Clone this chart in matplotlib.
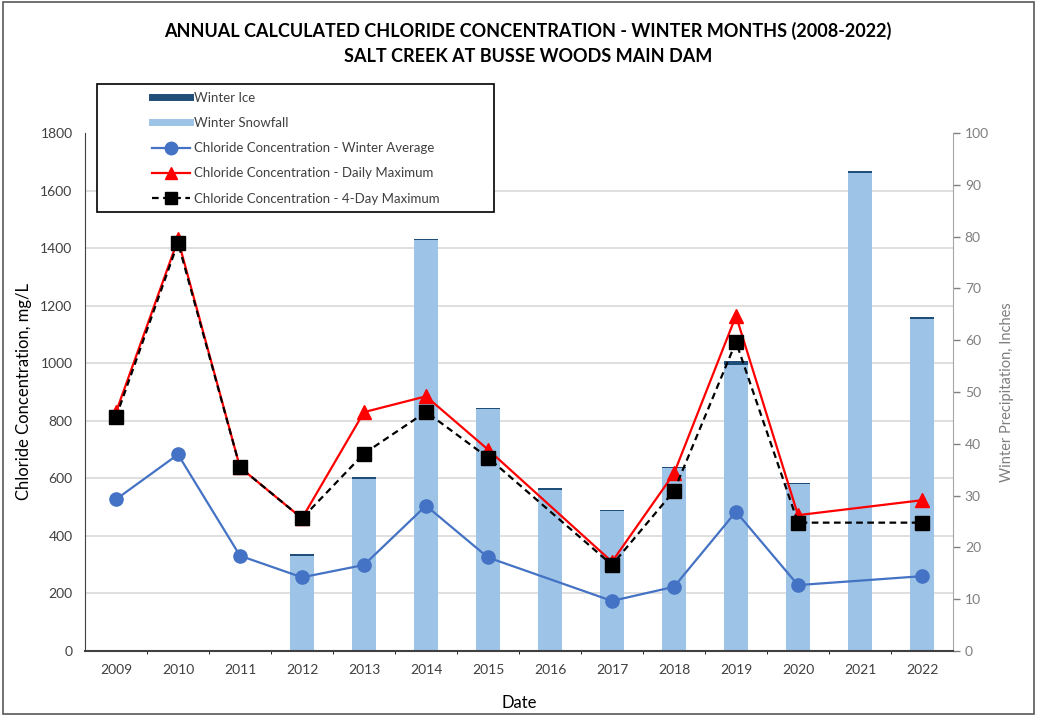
import numpy as np
import matplotlib
matplotlib.use("Agg")
import matplotlib.pyplot as plt
from matplotlib.lines import Line2D
from matplotlib.patches import Rectangle

plt.rcParams['font.family'] = ['Lato', 'DejaVu Sans']

#data--------------------------------------------------------------------------
years = ['2009', '2010', '2011', '2012', '2013', '2014', '2015', '2016',
         '2017', '2018', '2019', '2020', '2021', '2022']
# winter precipitation, inches (right axis)
snowfall = [0, 0, 0, 18.4, 33.2, 79.3, 46.7, 31.1, 27.0, 35.3, 55.2, 32.2, 92.2, 64.1]
ice = [0, 0, 0, 0.3, 0.3, 0.3, 0.3, 0.3, 0.3, 0.3, 0.8, 0.3, 0.4, 0.3]
# chloride concentration, mg/L (left axis); None = no value that year
winter_avg = [527, 683, 331, 256, 299, 505, 325, None, 174, 223, 484, 229, None, 260]
daily_max = [830, 1430, 638, 461, 830, 885, 700, None, 310, 617, 1165, 472, None, 524]
fourday_max = [813, 1419, 638, 461, 686, 831, 672, None, 299, 556, 1074, 446, None, 446]

#colours
c_snow = '#9DC3E6'
c_ice = '#1F4E79'
c_avg = '#4472C4'
c_grid = '#D9D9D9'

def valid(vals):
    # skip missing years so the line joins the neighbours
    xs = [i for i, v in enumerate(vals) if v is not None]
    ys = [v for v in vals if v is not None]
    return xs, ys

#figure------------------------------------------------------------------------
fig = plt.figure(figsize=(10.37, 7.16), dpi=100)
ax = fig.add_axes([85/1037, 1-651/716, (953-85)/1037, (651-133)/716])
ax2 = ax.twinx()
ax.set_zorder(ax2.get_zorder() + 1)
ax.patch.set_visible(False)

x = np.arange(len(years))

# bars on the right axis
ax2.bar(x, snowfall, width=0.4, color=c_snow, zorder=2)
ax2.bar(x, ice, width=0.4, bottom=snowfall, color=c_ice, zorder=2)
ax2.set_ylim(0, 100)
ax2.set_yticks(np.arange(0, 101, 10))
ax2.set_yticks(np.linspace(0, 100, 10), minor=True)
ax2.set_xticks(x[:-1] + 0.5, minor=True)
ax2.grid(which='minor', axis='both', color=c_grid, lw=1.2)
ax2.set_axisbelow(True)
ax2.tick_params(axis='y', which='major', colors='#7F7F7F', labelsize=10, length=5, width=1)
ax2.tick_params(which='minor', length=0)
ax2.set_ylabel('Winter Precipitation, Inches', color='#7F7F7F', fontsize=10.5, labelpad=8)
for s in ['top', 'left', 'bottom']:
    ax2.spines[s].set_visible(False)
ax2.spines['right'].set_color('#A6A6A6')

# lines on the left axis
xs, ys = valid(winter_avg)
ax.plot(xs, ys, color=c_avg, lw=1.6, marker='o', ms=9.5, zorder=3)
xs, ys = valid(daily_max)
ax.plot(xs, ys, color='red', lw=1.6, marker='^', ms=9.5, zorder=4)
xs, ys = valid(fourday_max)
ax.plot(xs, ys, color='black', lw=1.6, ls=(0, (3, 2)), marker='s', ms=9.5, zorder=5)

ax.set_xlim(-0.5, len(years) - 0.5)
ax.set_ylim(0, 1800)
ax.set_yticks(np.arange(0, 1801, 200))
ax.set_xticks(x)
ax.set_xticklabels(years)
ax.tick_params(axis='both', length=0, labelsize=10, colors='#404040', pad=9)
ax.set_ylabel('Chloride Concentration, mg/L', fontsize=12, labelpad=6)
ax.set_xlabel('Date', fontsize=12, labelpad=14)
ax.spines['top'].set_visible(False)
ax.spines['right'].set_visible(False)
ax.spines['left'].set_color('#404040')
ax.spines['bottom'].set_color('#404040')
ax.spines['bottom'].set_linewidth(1.5)

#titles
fig.text(528/1037, 1-31/716, 'ANNUAL CALCULATED CHLORIDE CONCENTRATION - WINTER MONTHS (2008-2022)',
         ha='center', va='center', fontsize=13, fontweight='bold')
fig.text(528/1037, 1-57/716, 'SALT CREEK AT BUSSE WOODS MAIN DAM',
         ha='center', va='center', fontsize=13, fontweight='bold')

#legend box + legend
box = Rectangle((97/1037, 1-212/716), (494-97)/1037, (212-84)/716, transform=fig.transFigure,
                facecolor='white', edgecolor='black', lw=1.2, zorder=5)
fig.patches.append(box)
handles = [Line2D([], [], color=c_ice, lw=5),
           Line2D([], [], color=c_snow, lw=5),
           Line2D([], [], color=c_avg, lw=1.6, marker='o', ms=9),
           Line2D([], [], color='red', lw=1.6, marker='^', ms=9),
           Line2D([], [], color='black', lw=1.6, ls=(0, (3, 2)), marker='s', ms=9)]
labels = ['Winter Ice', 'Winter Snowfall', 'Chloride Concentration - Winter Average',
          'Chloride Concentration - Daily Maximum', 'Chloride Concentration - 4-Day Maximum']
leg = fig.legend(handles, labels, loc='upper left', bbox_to_anchor=(140/1037, 1-80/716),
                 frameon=False, fontsize=9.5, handlelength=2.9, handletextpad=0.3,
                 labelspacing=1.0, labelcolor='#404040')
leg.set_zorder(6)

#outer frame
fig.patches.append(Rectangle((0.003, 0.003), 0.994, 0.994, transform=fig.transFigure,
                             fill=False, edgecolor='#595959', lw=1.2, zorder=7))

fig.savefig('out.png', dpi=100)
